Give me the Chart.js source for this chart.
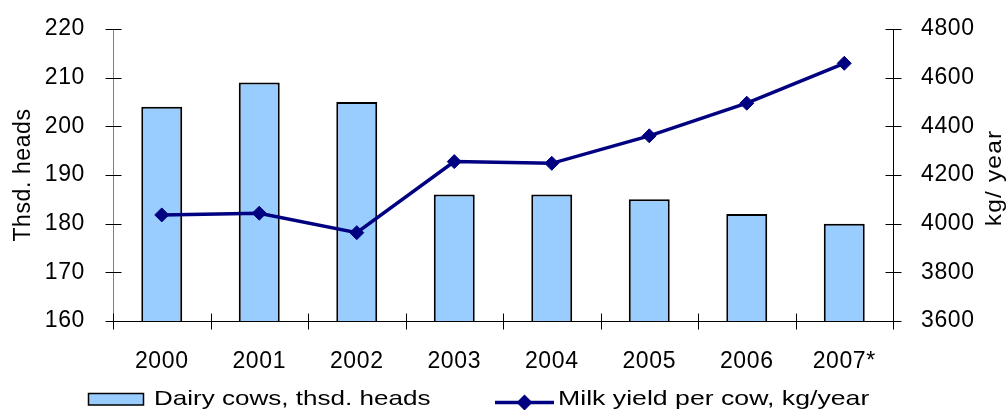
<!DOCTYPE html>
<html>
<head>
<meta charset="utf-8">
<script src="https://cdn.jsdelivr.net/npm/chart.js@4"></script>
<style>
  html, body { margin: 0; padding: 0; background: #fff; }
  #wrap { width: 1007px; height: 410px; }
</style>
</head>
<body>
<div id="wrap"><canvas id="c" width="1007" height="410"></canvas></div>
<script>
// ---- data ----
const categories = ['2000', '2001', '2002', '2003', '2004', '2005', '2006', '2007*'];
const dairyCows = [204, 209, 205, 186, 186, 185, 182, 180];
const milkYield = [4036, 4043, 3963, 4255, 4248, 4361, 4495, 4659];
const leftTicks = [160, 170, 180, 190, 200, 210, 220];
const rightTicks = [3600, 3800, 4000, 4200, 4400, 4600, 4800];
const barLabel = 'Dairy cows, thsd. heads';
const lineLabel = 'Milk yield per cow, kg/year';
const leftTitle = 'Thsd. heads';
const rightTitle = 'kg/ year';

// ---- styles ----
const FONT = "'Liberation Sans', Arial, sans-serif";
const BAR_FILL = '#99CCFF';
const LINE_COLOR = '#000080';
const SPACING = '0.6px';

Chart.defaults.color = '#000';
Chart.defaults.font.family = FONT;

const spacing = {
  id: 'spacing',
  beforeUpdate(c) { c.ctx.letterSpacing = SPACING; },
  beforeLayout(c) { c.ctx.letterSpacing = SPACING; },
  beforeDraw(c) { c.ctx.letterSpacing = SPACING; }
};

// tick marks crossing the axis lines
const crossTicks = {
  id: 'crossTicks',
  afterDraw(c) {
    const ctx = c.ctx;
    const {x, y, y1} = c.scales;
    ctx.save();
    ctx.strokeStyle = '#000';
    ctx.lineWidth = 1;
    ctx.beginPath();
    const L = 8;
    y.ticks.forEach(t => {
      const py = Math.round(y.getPixelForValue(t.value)) + 0.5;
      const ax = Math.round(c.chartArea.left) + 0.5;
      ctx.moveTo(ax - L, py); ctx.lineTo(ax + L, py);
    });
    y1.ticks.forEach(t => {
      const py = Math.round(y1.getPixelForValue(t.value)) + 0.5;
      const ax = Math.round(c.chartArea.right) + 0.5;
      ctx.moveTo(ax - L, py); ctx.lineTo(ax + L, py);
    });
    for (let i = 0; i <= categories.length; i++) {
      const px = Math.round(x.getPixelForValue(i - 0.5)) + 0.5;
      const ay = Math.round(c.chartArea.bottom) + 0.5;
      ctx.moveTo(px, ay - L); ctx.lineTo(px, ay + L);
    }
    ctx.stroke();
    ctx.restore();
  }
};

function stretchedText(ctx, text, x, y, sx) {
  ctx.save();
  ctx.translate(x, y);
  ctx.scale(sx, 1);
  ctx.fillText(text, 0, 0);
  ctx.restore();
}

// right axis title (reads bottom-to-top) and legend
const extras = {
  id: 'extras',
  afterDraw(c) {
    const ctx = c.ctx;
    const ds = c.data.datasets;
    ctx.save();
    ctx.fillStyle = '#000';
    // right title
    ctx.font = "22px " + FONT;
    ctx.letterSpacing = '1px';
    ctx.textAlign = 'center';
    ctx.textBaseline = 'middle';
    ctx.save();
    ctx.translate(995, 178);
    ctx.rotate(-Math.PI / 2);
    stretchedText(ctx, rightTitle, 0, 0, 1.12);
    ctx.restore();

    // legend
    ctx.font = "21px " + FONT;
    ctx.letterSpacing = '0px';
    ctx.textAlign = 'left';
    ctx.textBaseline = 'middle';
    const bar = ds.find(d => d.type === 'bar');
    const line = ds.find(d => d.type === 'line');
    // bar item
    ctx.fillStyle = bar.backgroundColor;
    ctx.fillRect(88, 393, 56, 12);
    ctx.strokeStyle = '#000';
    ctx.lineWidth = 1.5;
    ctx.strokeRect(88.5, 393.5, 55, 11.5);
    ctx.fillStyle = '#000';
    stretchedText(ctx, bar.label, 154, 399.5, 1.24);
    // line item
    ctx.strokeStyle = line.borderColor;
    ctx.lineWidth = 3.5;
    ctx.beginPath();
    ctx.moveTo(495, 402.5); ctx.lineTo(554, 402.5);
    ctx.stroke();
    ctx.fillStyle = line.borderColor;
    ctx.beginPath();
    const cx = 524.5, cy = 402.5, r = 8;
    ctx.moveTo(cx - r, cy); ctx.lineTo(cx, cy - r); ctx.lineTo(cx + r, cy); ctx.lineTo(cx, cy + r);
    ctx.closePath();
    ctx.fill();
    ctx.fillStyle = '#000';
    stretchedText(ctx, line.label, 558, 399.5, 1.27);
    ctx.restore();
  }
};

const tickFont = { size: 23, family: FONT };
const plain = v => String(v);

new Chart(document.getElementById('c'), {
  data: {
    labels: categories,
    datasets: [
      {
        type: 'line',
        label: lineLabel,
        data: milkYield,
        yAxisID: 'y1',
        borderColor: LINE_COLOR,
        backgroundColor: LINE_COLOR,
        borderWidth: 3.5,
        pointStyle: 'rectRot',
        pointRadius: 7,
        pointHoverRadius: 7,
        pointBackgroundColor: LINE_COLOR,
        pointBorderColor: LINE_COLOR,
        pointBorderWidth: 1,
        tension: 0,
        order: 0
      },
      {
        type: 'bar',
        label: barLabel,
        data: dairyCows,
        yAxisID: 'y',
        backgroundColor: BAR_FILL,
        borderColor: '#000',
        borderWidth: 2,
        borderSkipped: false,
        categoryPercentage: 1,
        barPercentage: 0.42,
        order: 1
      }
    ]
  },
  options: {
    responsive: false,
    animation: false,
    events: [],
    layout: { padding: { top: 29, left: 0, right: 0, bottom: 0 } },
    plugins: {
      legend: { display: false },
      tooltip: { enabled: false }
    },
    scales: {
      x: {
        type: 'category',
        offset: true,
        grid: { display: false, offset: true },
        border: { display: true, color: '#000', width: 1 },
        ticks: { font: tickFont, color: '#000', padding: 19, maxRotation: 0, autoSkip: false },
        afterFit(s) { s.height = 89; s.paddingLeft = 0; s.paddingRight = 0; }
      },
      y: {
        position: 'left',
        min: 160, max: 220,
        afterBuildTicks(s) { s.ticks = leftTicks.map(v => ({ value: v })); },
        grid: { display: false },
        border: { display: true, color: '#808080', width: 1 },
        ticks: { font: tickFont, color: '#000', padding: 20, callback: plain },
        title: { display: true, text: leftTitle, font: { size: 23, family: FONT }, color: '#000', padding: { top: 10, bottom: 0 } },
        afterFit(s) { s.width = 113; s.paddingTop = 0; s.paddingBottom = 0; }
      },
      y1: {
        position: 'right',
        min: 3600, max: 4800,
        afterBuildTicks(s) { s.ticks = rightTicks.map(v => ({ value: v })); },
        grid: { display: false },
        border: { display: true, color: '#000', width: 1 },
        ticks: { font: tickFont, color: '#000', padding: 20, callback: plain },
        afterFit(s) { s.width = 114; s.paddingTop = 0; s.paddingBottom = 0; }
      }
    }
  },
  plugins: [spacing, crossTicks, extras]
});
</script>
</body>
</html>
